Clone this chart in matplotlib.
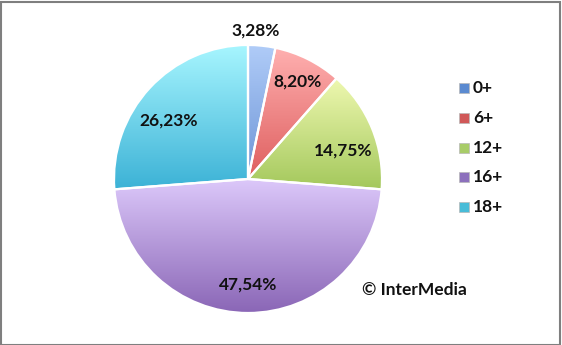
import numpy as np
import matplotlib
matplotlib.use("Agg")
import matplotlib.pyplot as plt
from matplotlib.colors import LinearSegmentedColormap
from matplotlib.patches import Rectangle

labels = ["0+", "6+", "12+", "16+", "18+"]
shares = [3.28, 8.20, 14.75, 47.54, 26.23]
top_colors = ["#b0ccf8", "#ffb0b0", "#eef8b0", "#dcc8fa", "#a8f6ff"]
bottom_colors = ["#6c94d6", "#de5e5e", "#a4c85c", "#8a66b6", "#3cb2d6"]
legend_colors = ["#5b8ad0", "#d05858", "#a8cc68", "#8c70bc", "#48bcd8"]

W, H = 562, 345
fig = plt.figure(figsize=(W / 100, H / 100), dpi=100)
ax = fig.add_axes([0, 0, 1, 1])

cx, cy, r = 248, H - 179, 134
wedges, _ = ax.pie(shares, startangle=90, counterclock=False, center=(cx, cy),
                   radius=r, frame=True,
                   wedgeprops=dict(edgecolor="white", linewidth=1.6))
ax.set_aspect("auto")
ax.set_axis_off()

# vertical gradient in each slice, light on top
grad = np.linspace(0, 1, 256).reshape(-1, 1)
for w, c0, c1 in zip(wedges, top_colors, bottom_colors):
    cmap = LinearSegmentedColormap.from_list("g", [c1, c0])
    bb = w.get_path().get_extents(w.get_transform() - ax.transData)
    im = ax.imshow(grad, cmap=cmap, origin="lower", aspect="auto",
                   extent=[bb.x0, bb.x1, bb.y0, bb.y1], zorder=w.get_zorder() - 0.1)
    im.set_clip_path(w)
    w.set_facecolor("none")

ax.set_xlim(0, W)
ax.set_ylim(0, H)

font = "Lato"
fs = 12.5
label_pos = [(256, 31), (298, 82), (343, 151), (248, 285), (169, 121)]
for (x, y), v in zip(label_pos, shares):
    ax.text(x, H - y, f"{v:.2f}%".replace(".", ","), ha="center", va="center",
            fontsize=fs, fontweight="bold", family=font, color="#111111", zorder=5)

# legend
for i, (lab, col) in enumerate(zip(labels, legend_colors)):
    y = H - (88 + i * 29.8)
    ax.add_patch(Rectangle((459, y - 5), 10, 10, facecolor=col, edgecolor="#b8b8b8",
                           linewidth=0.5, zorder=5))
    ax.text(473, y, lab, ha="left", va="center", fontsize=fs, fontweight="bold",
            family=font, color="#111111")

ax.text(362, H - 290, "© InterMedia", ha="left", va="center", fontsize=fs,
        fontweight="bold", family=font, color="#111111")

fig.add_artist(Rectangle((0.5 / W, 0.5 / H), 1 - 2.5 / W, 1 - 2.5 / H,
                         transform=fig.transFigure, facecolor="none",
                         edgecolor="#7f7f7f", linewidth=1.5))

fig.savefig("out.png", dpi=100, facecolor="white")
